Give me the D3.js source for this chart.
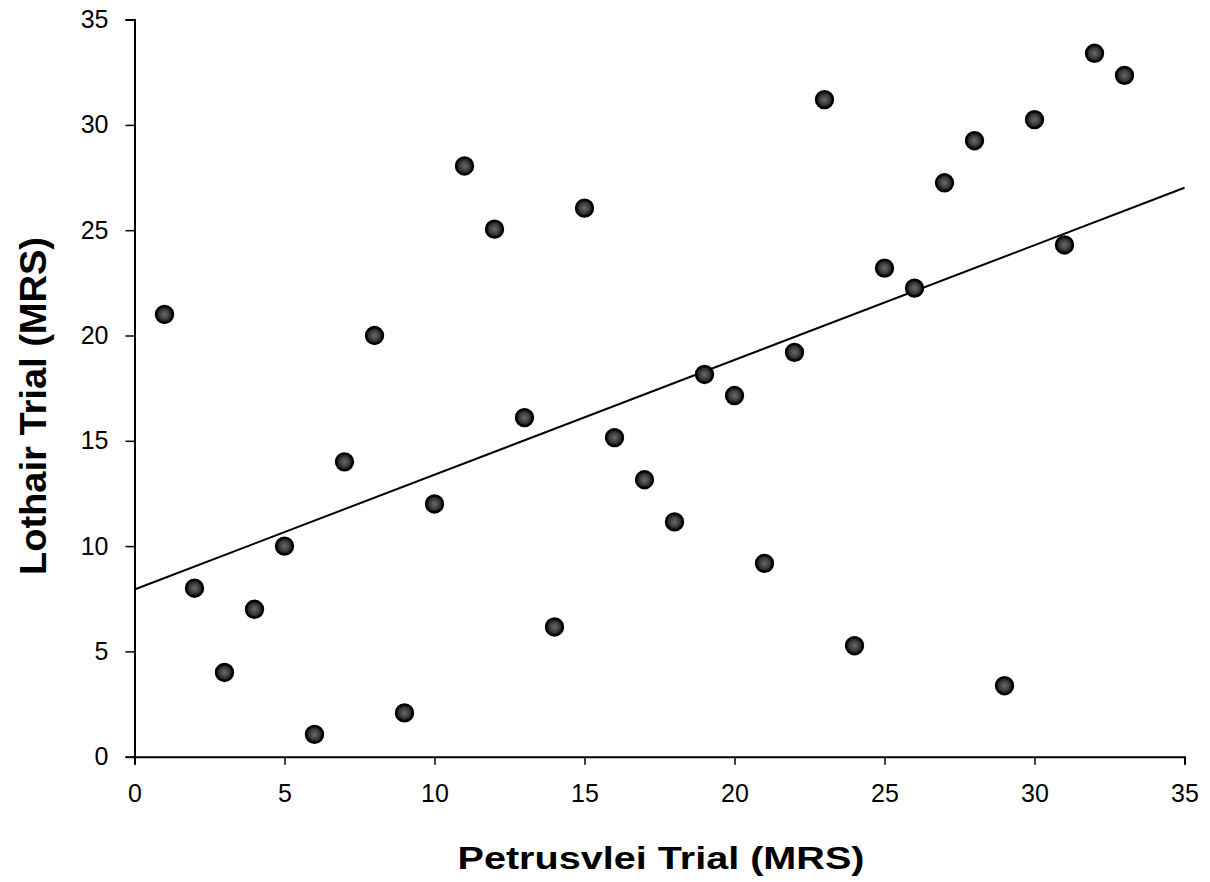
<!DOCTYPE html>
<html>
<head>
<meta charset="utf-8">
<script src="https://cdn.jsdelivr.net/npm/d3@7"></script>
<style>
  html, body { margin: 0; padding: 0; background: #fff; }
  svg { display: block; }
</style>
</head>
<body>
<svg id="chart" width="1210" height="882"></svg>
<script>
// Data
const petrusvlei = [1, 2, 3, 4, 5, 6, 7, 8, 9, 10, 11, 12, 13, 14, 15, 16, 17,
                    18, 19, 20, 21, 22, 23, 24, 25, 26, 27, 28, 29, 30, 31, 32, 33];
const lothair = [21.0, 8.0, 4.0, 7.0, 10.0, 1.06, 14.0, 20.0, 2.08, 12.0, 28.05, 25.05, 16.1, 6.16, 26.05, 15.15, 13.15,
                 11.15, 18.15, 17.15, 9.18, 19.2, 31.2, 5.27, 23.2, 22.25, 27.25, 29.25, 3.37, 30.25, 24.3, 33.4, 32.35];
const xTicks = [0, 5, 10, 15, 20, 25, 30, 35];
const yTicks = [0, 5, 10, 15, 20, 25, 30, 35];
const fitIntercept = 7.94;
const fitSlope = 0.545;
const xTitle = "Petrusvlei Trial (MRS)";
const yTitle = "Lothair Trial (MRS)";

const svg = d3.select("#chart");
const x = d3.scaleLinear().domain([0, 35]).range([134.5, 1184.5]);
const y = d3.scaleLinear().domain([0, 35]).range([756.7, 19.6]);

const font = "'Liberation Sans', Arial, sans-serif";

// X axis
const xAxis = svg.append("g")
  .attr("transform", `translate(0,${y(0)})`)
  .call(d3.axisBottom(x).tickValues(xTicks).tickSize(8).tickPadding(20).tickFormat(d3.format("d")));
xAxis.select(".domain").attr("stroke", "#000").attr("stroke-width", 2);
xAxis.selectAll(".tick line").attr("stroke", "#000").attr("stroke-width", 1.5);
xAxis.selectAll("text").attr("font-family", font).attr("font-size", 25).attr("fill", "#000");

// Y axis
const yAxis = svg.append("g")
  .attr("transform", `translate(${x(0)},0)`)
  .call(d3.axisLeft(y).tickValues(yTicks).tickSize(9).tickPadding(17).tickFormat(d3.format("d")));
yAxis.select(".domain").attr("stroke", "#000").attr("stroke-width", 2);
yAxis.selectAll(".tick line").attr("stroke", "#000").attr("stroke-width", 1.5);
yAxis.selectAll("text").attr("font-family", font).attr("font-size", 25).attr("fill", "#000");

// Regression line
svg.append("line")
  .attr("x1", x(0)).attr("y1", y(fitIntercept))
  .attr("x2", x(35)).attr("y2", y(fitIntercept + fitSlope * 35))
  .attr("stroke", "#000").attr("stroke-width", 2);

// Points
const defs = svg.append("defs");
const grad = defs.append("radialGradient").attr("id", "dotfill");
grad.append("stop").attr("offset", "0%").attr("stop-color", "#6a6a6a");
grad.append("stop").attr("offset", "60%").attr("stop-color", "#3a3a3a");
grad.append("stop").attr("offset", "100%").attr("stop-color", "#0a0a0a");

svg.append("g").selectAll("circle")
  .data(petrusvlei.map((d, i) => [d, lothair[i]]))
  .join("circle")
  .attr("cx", d => x(d[0]))
  .attr("cy", d => y(d[1]))
  .attr("r", 8.5)
  .attr("fill", "url(#dotfill)")
  .attr("stroke", "#000")
  .attr("stroke-width", 2.4);

// Axis titles
svg.append("text")
  .attr("x", 661).attr("y", 869)
  .attr("text-anchor", "middle")
  .attr("font-family", font).attr("font-weight", "bold").attr("font-size", 32)
  .attr("textLength", 407).attr("lengthAdjust", "spacingAndGlyphs")
  .attr("fill", "#000")
  .text(xTitle);

svg.append("text")
  .attr("transform", `translate(46,406) rotate(-90)`)
  .attr("text-anchor", "middle")
  .attr("font-family", font).attr("font-weight", "bold").attr("font-size", 36)
  .attr("textLength", 338).attr("lengthAdjust", "spacingAndGlyphs")
  .attr("fill", "#000")
  .text(yTitle);
</script>
</body>
</html>
